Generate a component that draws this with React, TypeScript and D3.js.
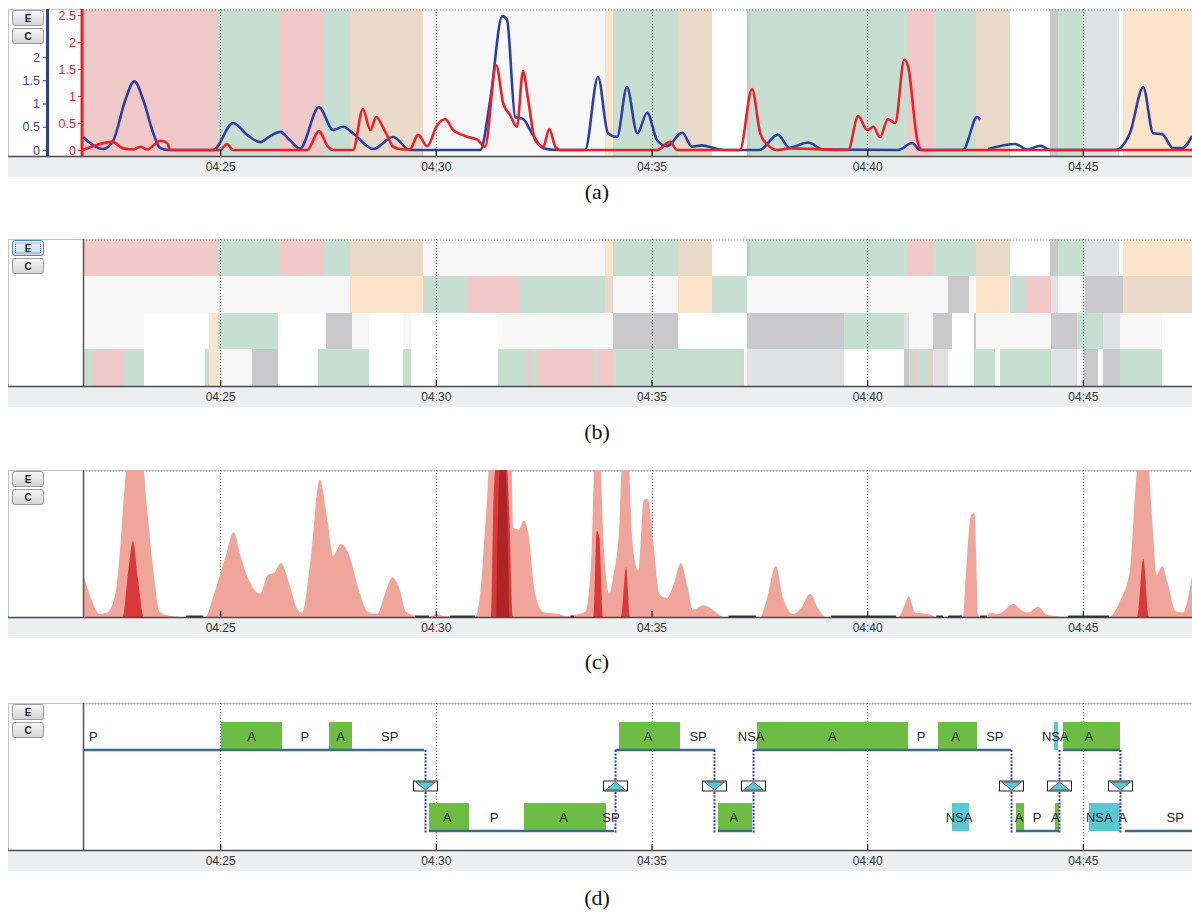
import React, { useEffect, useRef } from "react";
import * as d3 from "d3";

// all times are minutes after 04:00
const T_START = 21.82;
const T_END = 47.53;
const tickMinutes = [25, 30, 35, 40, 45];
const tickLabels = ["04:25", "04:30", "04:35", "04:40", "04:45"];
const captions = ["(a)", "(b)", "(c)", "(d)"];

// activity codes -> fill
const activityColors: Record<string, string> = {
  P: "#f1c9c9",
  G: "#c7dfd3",
  T: "#e9d9c8",
  O: "#fce4ca",
  W: "#f7f7f7",
  N: "#ffffff",
  L: "#e1e2e4",
  D: "#c9c9cb",
};

// [start, end, activity]
const rowTop: [number, number, string][] = [
  [21.82, 24.93, "P"], [24.93, 26.39, "G"], [26.39, 27.41, "P"], [27.41, 28.01, "G"],
  [28.01, 29.71, "T"], [29.71, 33.92, "W"], [33.92, 34.11, "O"], [34.11, 35.62, "G"],
  [35.62, 36.4, "T"], [36.4, 37.22, "N"], [37.22, 37.29, "D"], [37.29, 40.92, "G"],
  [40.92, 41.53, "P"], [41.53, 42.52, "G"], [42.52, 43.31, "T"], [43.31, 44.24, "N"],
  [44.24, 44.42, "D"], [44.42, 45.03, "G"], [45.03, 45.84, "L"], [45.84, 45.93, "N"],
  [45.93, 47.53, "O"],
];
const rowTwo: [number, number, string][] = [
  [21.82, 28.01, "W"], [28.01, 29.71, "O"], [29.71, 30.75, "G"], [30.75, 31.95, "P"],
  [31.95, 33.92, "G"], [33.92, 34.11, "T"], [34.11, 35.62, "W"], [35.62, 36.4, "O"],
  [36.4, 37.22, "G"], [37.22, 41.88, "W"], [41.88, 42.36, "D"], [42.36, 42.52, "W"],
  [42.52, 43.31, "O"], [43.31, 43.65, "G"], [43.65, 44.25, "P"], [44.25, 44.42, "L"],
  [44.42, 45.05, "W"], [45.05, 45.93, "D"], [45.93, 47.53, "T"],
];
const rowThree: [number, number, string][] = [
  [21.82, 23.23, "W"], [23.23, 24.74, "N"], [24.74, 24.94, "O"], [24.94, 26.34, "G"],
  [26.34, 27.46, "N"], [27.46, 28.06, "D"], [28.06, 28.44, "W"], [28.44, 29.24, "N"],
  [29.24, 29.43, "W"], [29.43, 31.43, "N"], [31.43, 34.11, "W"], [34.11, 35.62, "D"],
  [35.62, 37.22, "N"], [37.22, 39.46, "D"], [39.46, 40.86, "G"], [40.86, 40.97, "L"],
  [40.97, 41.53, "W"], [41.53, 41.97, "D"], [41.97, 42.47, "N"], [42.47, 42.52, "D"],
  [42.52, 44.25, "W"], [44.25, 44.87, "D"], [44.87, 45.47, "G"], [45.47, 45.86, "L"],
  [45.86, 46.84, "W"], [46.84, 47.53, "N"],
];
const rowFour: [number, number, string][] = [
  [21.82, 22.06, "G"], [22.06, 22.74, "P"], [22.74, 23.23, "G"], [23.23, 24.65, "N"],
  [24.65, 24.74, "G"], [24.74, 24.94, "O"], [24.94, 25.74, "W"], [25.74, 26.34, "D"],
  [26.34, 27.26, "N"], [27.26, 28.44, "G"], [28.44, 29.24, "N"], [29.24, 29.43, "G"],
  [29.43, 31.43, "N"], [31.43, 32.14, "G"], [32.14, 32.24, "P"], [32.24, 32.35, "G"],
  [32.35, 33.65, "P"], [33.65, 33.76, "G"], [33.76, 34.11, "P"], [34.11, 37.08, "G"],
  [37.08, 37.15, "P"], [37.15, 37.22, "N"], [37.22, 39.46, "L"], [39.46, 40.86, "N"],
  [40.86, 40.97, "D"], [40.97, 41.06, "G"], [41.06, 41.16, "P"], [41.16, 41.46, "G"],
  [41.46, 41.53, "P"], [41.53, 41.88, "L"], [41.88, 42.47, "N"], [42.47, 42.96, "G"],
  [42.96, 43.07, "N"], [43.07, 44.25, "G"], [44.25, 44.87, "L"], [44.87, 45.03, "W"],
  [45.03, 45.35, "D"], [45.35, 45.47, "N"], [45.47, 45.86, "D"], [45.86, 46.83, "G"],
  [46.83, 47.53, "N"],
];

// (a) blue series, left axis; null = no data
const blueSeries: [number, number | null][] = [
  [21.82, 0.28], [22.29, 0.02], [22.52, 0.2], [22.8, 1.07], [23.01, 1.48], [23.22, 1.07],
  [23.45, 0.36], [23.61, 0.04], [23.79, 0], [24.84, 0], [25.3, 0.58], [25.63, 0.32],
  [25.93, 0.17], [26.16, 0.3], [26.39, 0.39], [26.62, 0.21], [26.85, 0.03], [27.29, 0.92],
  [27.62, 0.43], [27.85, 0.5], [28.08, 0.36], [28.55, 0.02], [29.01, 0.28], [29.4, 0],
  [31.03, 0], [31.26, 1.07], [31.54, 2.88], [31.65, 2.8], [31.84, 0.71], [32.02, 0.67],
  [32.23, 0.36], [32.49, 0.04], [32.81, 0], [33.46, 0], [33.76, 1.57], [33.99, 0.36],
  [34.2, 0.28], [34.43, 1.35], [34.67, 0.36], [34.9, 0.8], [35.13, 0.21], [35.36, 0.08],
  [35.71, 0.37], [35.94, 0.07], [36.17, 0.1], [36.52, 0.02], [36.7, 0], [37.5, 0],
  [37.93, 0.33], [38.19, 0.05], [38.63, 0.16], [38.98, 0.01], [40.72, 0], [41.04, 0.15],
  [41.23, 0], [42.22, 0], [42.55, 0.71], [42.62, 0.65], [42.7, null], [42.8, 0.02],
  [43.43, 0.13], [43.71, 0.01], [44.01, 0.09], [44.24, 0], [45.75, 0], [46.09, 0.36],
  [46.4, 1.35], [46.63, 0.36], [46.84, 0.34], [47.09, 0.04], [47.3, 0.04], [47.53, 0.3],
];
// (a) red series, right axis
const redSeries: [number, number][] = [
  [21.82, 0], [22.5, 0.15], [22.75, 0.03], [22.98, 0.01], [23.15, 0.06], [23.31, 0.01],
  [23.61, 0.17], [23.77, 0.13], [23.84, 0], [25.0, 0], [25.16, 0.11], [25.3, 0],
  [27.02, 0], [27.29, 0.35], [27.5, 0.06], [27.62, 0], [28.08, 0], [28.31, 0.76],
  [28.48, 0.37], [28.62, 0.61], [28.78, 0.41], [28.89, 0.24], [29.01, 0.06], [29.24, 0.01],
  [29.4, 0.02], [29.59, 0.28], [29.8, 0.07], [30.03, 0.46], [30.22, 0.57], [30.4, 0.37],
  [30.61, 0.28], [30.75, 0.24], [30.96, 0.19], [31.14, 0.06], [31.4, 1.57], [31.56, 0.87],
  [31.72, 0.65], [31.88, 0.43], [32.02, 1.46], [32.14, 0.93], [32.3, 0.19], [32.49, 0.06],
  [32.63, 0.39], [32.77, 0.06], [32.88, 0], [35.13, 0], [35.43, 0.15], [35.59, 0],
  [37.05, 0], [37.33, 1.13], [37.52, 0.31], [37.7, 0.09], [37.91, 0], [38.21, 0.03],
  [38.68, 0.02], [39.56, 0], [39.79, 0.63], [40.0, 0.37], [40.14, 0.43], [40.3, 0.24],
  [40.48, 0.57], [40.65, 0.5], [40.86, 1.67], [40.95, 1.54], [41.16, 0.19], [41.27, 0],
  [47.53, 0],
];
const blueTicks = [0, 0.5, 1, 1.5, 2];
const redTicks = [0, 0.5, 1, 1.5, 2, 2.5];

// (c) intensity, share of panel height (above 1 is cut off)
const lightArea: [number, number][] = [
  [21.82, 0.3], [21.89, 0.23], [22.03, 0.11], [22.21, 0.02], [22.38, 0.03], [22.57, 0.16],
  [22.69, 0.5], [22.77, 0.84], [22.87, 1.1], [23.18, 1.1], [23.31, 0.73], [23.45, 0.32],
  [23.59, 0.04], [23.79, 0.01], [24.07, 0], [24.65, 0], [24.86, 0.16], [25.14, 0.43],
  [25.31, 0.58], [25.49, 0.4], [25.67, 0.25], [25.93, 0.16], [26.11, 0.29], [26.24, 0.3],
  [26.41, 0.37], [26.6, 0.23], [26.78, 0.06], [26.9, 0.03], [27.09, 0.38], [27.31, 0.94],
  [27.48, 0.68], [27.62, 0.42], [27.8, 0.5], [27.97, 0.44], [28.2, 0.2], [28.41, 0.04],
  [28.64, 0.02], [28.82, 0.16], [28.99, 0.27], [29.17, 0.18], [29.3, 0.04], [29.52, 0.01],
  [29.84, 0], [30.01, 0.02], [30.19, 0.005], [30.9, 0], [31.03, 0.16], [31.17, 0.73],
  [31.26, 1.1], [31.75, 1.1], [31.79, 0.61], [31.92, 0.6], [32.04, 0.66], [32.14, 0.58],
  [32.28, 0.2], [32.41, 0.06], [32.53, 0.03], [32.86, 0.02], [33.02, 0.005], [33.3, 0.02],
  [33.47, 0.04], [33.6, 0.38], [33.69, 1.1], [33.8, 1.1], [33.89, 0.5], [34.02, 0.16],
  [34.11, 0.27], [34.25, 0.61], [34.33, 1.1], [34.46, 1.1], [34.55, 0.54], [34.69, 0.32],
  [34.82, 0.8], [34.91, 0.81], [35.04, 0.52], [35.18, 0.16], [35.35, 0.13], [35.52, 0.23],
  [35.68, 0.37], [35.84, 0.2], [35.96, 0.05], [36.2, 0.08], [36.42, 0.05], [36.68, 0],
  [37.52, 0], [37.66, 0.11], [37.88, 0.35], [38.05, 0.13], [38.28, 0.02], [38.46, 0.06],
  [38.68, 0.16], [38.86, 0.06], [39.04, 0], [40.72, 0], [40.81, 0.04], [40.97, 0.14],
  [41.11, 0.03], [41.43, 0.02], [41.6, 0], [42.22, 0], [42.27, 0.2], [42.41, 0.7],
  [42.49, 0.71], [42.58, 0.01], [42.76, 0], [42.85, 0.03], [43.03, 0.02], [43.2, 0.05],
  [43.38, 0.09], [43.56, 0.05], [43.73, 0.03], [43.96, 0.07], [44.14, 0.02], [44.26, 0.01],
  [44.62, 0], [45.6, 0], [45.86, 0.11], [46.09, 0.32], [46.21, 0.84], [46.3, 1.1],
  [46.49, 1.1], [46.62, 0.61], [46.71, 0.29], [46.84, 0.35], [46.97, 0.23], [47.15, 0.04],
  [47.32, 0.03], [47.53, 0.28],
];
const darkArea: [number, number][] = [
  [21.82, 0], [22.74, 0], [22.87, 0.32], [22.98, 0.52], [23.09, 0.27], [23.23, 0],
  [31.28, 0], [31.34, 0.84], [31.42, 1.1], [31.63, 1.1], [31.7, 0.73], [31.79, 0],
  [33.65, 0], [33.73, 0.59], [33.79, 0.55], [33.88, 0], [34.29, 0], [34.41, 0.34],
  [34.5, 0], [46.26, 0], [46.4, 0.4], [46.53, 0], [47.53, 0],
];
const coreArea: [number, number][] = [
  [31.4, 0], [31.46, 0.9], [31.52, 1.1], [31.58, 1.1], [31.66, 0.7], [31.7, 0],
];
// (c) stretches with no activity, drawn on the baseline
const idleStretches: [number, number][] = [
  [24.21, 24.61], [29.52, 29.84], [30.33, 30.91], [33.12, 33.2], [36.78, 37.42],
  [39.16, 40.67], [41.6, 41.76], [41.88, 42.2], [42.62, 42.78], [44.66, 45.61],
];

// (d) two-level state timeline
const upperRuns: [number, number][] = [[21.82, 29.73], [34.16, 36.47], [37.36, 43.34], [44.54, 45.86]];
const lowerRuns: [number, number][] = [[29.84, 34.13], [36.54, 37.33], [43.45, 44.45], [45.97, 47.53]];
const upperBoxes: [number, number, string][] = [
  [25.03, 26.43, "A"], [27.53, 28.06, "A"], [34.25, 35.65, "A"], [37.45, 40.95, "A"],
  [41.64, 42.55, "A"], [44.33, 44.42, "NSA"], [44.54, 45.86, "A"],
];
const lowerBoxes: [number, number, string][] = [
  [29.84, 30.76, "A"], [32.05, 33.94, "A"], [36.54, 37.33, "A"], [41.96, 42.35, "NSA"],
  [43.45, 43.64, "A"], [44.36, 44.45, "A"], [45.14, 45.86, "NSA"],
];
const upperLabels: [number, string][] = [
  [22.06, "P"], [25.73, "A"], [26.96, "P"], [27.79, "A"], [28.93, "SP"], [34.92, "A"],
  [36.08, "SP"], [37.31, "NSA"], [39.19, "A"], [41.25, "P"], [42.05, "A"], [42.96, "SP"],
  [44.36, "NSA"], [45.14, "A"],
];
const lowerLabels: [number, string][] = [
  [30.26, "A"], [31.35, "P"], [32.96, "A"], [34.06, "SP"], [36.91, "A"], [42.13, "NSA"],
  [43.52, "A"], [43.94, "P"], [44.36, "A"], [45.38, "NSA"], [45.92, "A"], [47.14, "SP"],
];
const transitions: [number, string][] = [
  [29.75, "down"], [34.16, "up"], [36.45, "down"], [37.36, "up"],
  [43.34, "down"], [44.45, "up"], [45.86, "down"],
];

const W = 1192;
const X0 = 83;
const PH = 147;
const panelTops = [9, 239, 470, 703];
const captionY = [199, 439, 669, 905];
const FONT = "'Liberation Sans', Arial, sans-serif";

export default function App() {
  const ref = useRef<SVGSVGElement>(null);

  useEffect(() => {
    const svg = d3.select(ref.current);
    svg.selectAll("*").remove();

    const x = d3.scaleLinear().domain([T_START, T_END]).range([X0, W]);
    const px = (m: number) => Math.round(x(m));

    const defs = svg.append("defs");
    const gradient = (id: string, a: string, b: string) => {
      const lg = defs.append("linearGradient").attr("id", id).attr("x1", 0).attr("y1", 0).attr("x2", 0).attr("y2", 1);
      lg.append("stop").attr("offset", "0%").attr("stop-color", a);
      lg.append("stop").attr("offset", "100%").attr("stop-color", b);
    };
    gradient("btn", "#f8f8f8", "#d4d4d4");
    gradient("btnOn", "#f0f6fd", "#c6d9ef");

    function panel(i: number) {
      const g = svg.append("g").attr("transform", `translate(0,${panelTops[i]})`);
      defs.append("clipPath").attr("id", "clip" + i)
        .append("rect").attr("x", X0).attr("y", 0).attr("width", W - X0).attr("height", PH);
      g.append("rect").attr("x", 8.5).attr("y", 0.5).attr("width", W - 8).attr("height", PH)
        .attr("fill", "#fff").attr("stroke", "#c4c4c4");
      g.append("rect").attr("x", 8).attr("y", PH).attr("width", W - 8).attr("height", 21).attr("fill", "#eceef0");
      const plot = g.append("g").attr("clip-path", `url(#clip${i})`);
      return { g, plot };
    }

    function bands(plot: any, rows: [number, number, string][], y0: number, h: number) {
      plot.append("g").selectAll("rect").data(rows).join("rect")
        .attr("x", (d: any) => px(d[0]))
        .attr("width", (d: any) => Math.max(1, px(d[1]) - px(d[0])))
        .attr("y", y0).attr("height", h)
        .attr("fill", (d: any) => activityColors[d[2]]);
    }

    function grid(plot: any) {
      plot.append("line").attr("x1", X0).attr("x2", W).attr("y1", 1).attr("y2", 1)
        .attr("stroke", "#8a8a8a").attr("stroke-dasharray", "1,2");
      plot.append("g").selectAll("line").data(tickMinutes).join("line")
        .attr("x1", (d: number) => px(d) + 0.5).attr("x2", (d: number) => px(d) + 0.5)
        .attr("y1", 0).attr("y2", PH)
        .attr("stroke", "#555").attr("stroke-dasharray", "1,2");
    }

    function timeAxis(g: any) {
      const ax = g.append("g").attr("transform", `translate(0,${PH})`)
        .call(d3.axisBottom(x).tickValues(tickMinutes)
          .tickFormat((_d: any, i: number) => tickLabels[i])
          .tickSizeInner(-6).tickSizeOuter(0).tickPadding(6));
      ax.select(".domain").remove();
      ax.selectAll("line").attr("stroke", "#222").attr("stroke-width", 1.3);
      ax.selectAll("text").attr("font-family", FONT).attr("font-size", 12).attr("fill", "#333");
      g.append("line").attr("x1", 8).attr("x2", W).attr("y1", PH + 0.5).attr("y2", PH + 0.5)
        .attr("stroke", "#4a4a4a").attr("stroke-width", 1.5);
    }

    function buttons(g: any, activeE: boolean) {
      [["E", 1], ["C", 19]].forEach(([label, y]: any, i) => {
        const on = activeE && i === 0;
        g.append("rect").attr("x", 12.5).attr("y", y + 0.5).attr("width", 31).attr("height", 15).attr("rx", 2.5)
          .attr("fill", on ? "url(#btnOn)" : "url(#btn)").attr("stroke", on ? "#4f86c6" : "#9b9b9b");
        if (on) {
          g.append("rect").attr("x", 15.5).attr("y", y + 3).attr("width", 25).attr("height", 10)
            .attr("fill", "none").attr("stroke", "#333").attr("stroke-width", 0.6).attr("stroke-dasharray", "1,1");
        }
        g.append("text").attr("x", 28).attr("y", y + 11.8).attr("text-anchor", "middle")
          .attr("font-family", FONT).attr("font-size", 10).attr("font-weight", "bold").attr("fill", "#222").text(label);
      });
    }

    function leftEdge(g: any) {
      g.append("line").attr("x1", X0 + 0.5).attr("x2", X0 + 0.5).attr("y1", 0).attr("y2", PH)
        .attr("stroke", "#555").attr("stroke-width", 1.5);
    }

    // ---------- (a) ----------
    {
      const { g, plot } = panel(0);
      bands(plot, rowTop, 0, PH);
      grid(plot);
      const yBlue = d3.scaleLinear().domain([0, 3]).range([141, 1.5]);
      const yRed = d3.scaleLinear().domain([0, 2.5]).range([141, 6]);
      const blueLine = d3.line<[number, number | null]>()
        .defined((d) => d[1] !== null)
        .curve(d3.curveMonotoneX)
        .x((d) => x(d[0])).y((d) => yBlue(d[1] as number));
      const redLine = d3.line<[number, number]>().curve(d3.curveMonotoneX)
        .x((d) => x(d[0])).y((d) => yRed(d[1]));
      plot.append("path").attr("d", blueLine(blueSeries)).attr("fill", "none")
        .attr("stroke", "#2f3f9f").attr("stroke-width", 2.6).attr("stroke-linejoin", "round");
      plot.append("path").attr("d", redLine(redSeries)).attr("fill", "none")
        .attr("stroke", "#ee2026").attr("stroke-width", 2.6).attr("stroke-linejoin", "round");
      timeAxis(g);

      const blueAxis = g.append("g").attr("transform", "translate(46,0)")
        .call(d3.axisLeft(yBlue).tickValues(blueTicks).tickFormat((d: any) => String(d)).tickSize(3).tickPadding(3));
      blueAxis.select(".domain").remove();
      blueAxis.selectAll("line").attr("stroke", "#2f3f9f");
      blueAxis.selectAll("text").attr("font-family", FONT).attr("font-size", 12.5).attr("fill", "#3848a8");
      g.append("line").attr("x1", 47.5).attr("x2", 47.5).attr("y1", 0).attr("y2", PH)
        .attr("stroke", "#2f3f9f").attr("stroke-width", 3);

      const redAxis = g.append("g").attr("transform", "translate(81,0)")
        .call(d3.axisLeft(yRed).tickValues(redTicks).tickFormat((d: any) => String(d)).tickSize(3).tickPadding(2));
      redAxis.select(".domain").remove();
      redAxis.selectAll("line").attr("stroke", "#ee2026");
      redAxis.selectAll("text").attr("font-family", FONT).attr("font-size", 12.5).attr("fill", "#ee2026");
      g.append("line").attr("x1", 82).attr("x2", 82).attr("y1", 0).attr("y2", PH)
        .attr("stroke", "#ee2026").attr("stroke-width", 3);
      buttons(g, false);
    }

    // ---------- (b) ----------
    {
      const { g, plot } = panel(1);
      const rh = PH / 4;
      [rowTop, rowTwo, rowThree, rowFour].forEach((rows, i) =>
        bands(plot, rows, Math.round(i * rh), Math.round((i + 1) * rh) - Math.round(i * rh)));
      grid(plot);
      timeAxis(g);
      leftEdge(g);
      buttons(g, true);
    }

    // ---------- (c) ----------
    {
      const { g, plot } = panel(2);
      grid(plot);
      const yC = d3.scaleLinear().domain([0, 1]).range([PH, 1]);
      const area = d3.area<[number, number]>().curve(d3.curveMonotoneX)
        .x((d) => x(d[0])).y0(PH + 1).y1((d) => yC(d[1]));
      plot.append("path").attr("d", area(lightArea)).attr("fill", "#efa59a");
      plot.append("path").attr("d", area(darkArea)).attr("fill", "#d8393b");
      plot.append("path").attr("d", area(coreArea)).attr("fill", "#ad2426");
      timeAxis(g);
      g.append("g").selectAll("line").data(idleStretches).join("line")
        .attr("x1", (d: any) => x(d[0])).attr("x2", (d: any) => x(d[1]))
        .attr("y1", PH - 0.5).attr("y2", PH - 0.5).attr("stroke", "#333").attr("stroke-width", 2);
      leftEdge(g);
      buttons(g, false);
    }

    // ---------- (d) ----------
    {
      const { g, plot } = panel(3);
      grid(plot);
      const levels = [
        { runs: upperRuns, boxes: upperBoxes, labels: upperLabels, top: 19, line: 47 },
        { runs: lowerRuns, boxes: lowerBoxes, labels: lowerLabels, top: 100, line: 128 },
      ];
      levels.forEach((lv) => {
        plot.append("g").selectAll("rect").data(lv.boxes).join("rect")
          .attr("x", (d: any) => px(d[0])).attr("width", (d: any) => Math.max(3, px(d[1]) - px(d[0])))
          .attr("y", lv.top).attr("height", lv.line - lv.top)
          .attr("fill", (d: any) => (d[2] === "NSA" ? "#5ec5d2" : "#6dbd45"));
        plot.append("g").selectAll("line").data(lv.runs).join("line")
          .attr("x1", (d: any) => x(d[0])).attr("x2", (d: any) => x(d[1]))
          .attr("y1", lv.line).attr("y2", lv.line)
          .attr("stroke", "#3d6b8c").attr("stroke-width", 2.5);
        plot.append("g").selectAll("text").data(lv.labels).join("text")
          .attr("x", (d: any) => x(d[0])).attr("y", lv.top + 19)
          .attr("text-anchor", "middle").attr("font-family", FONT).attr("font-size", 13).attr("fill", "#222")
          .text((d: any) => d[1]);
      });
      const tr = plot.append("g").selectAll("g").data(transitions).join("g")
        .attr("transform", (d: any) => `translate(${px(d[0]) + 0.5},0)`);
      tr.append("line").attr("y1", 47).attr("y2", 130)
        .attr("stroke", "#3a3ac4").attr("stroke-width", 2).attr("stroke-dasharray", "2,1.5");
      tr.append("rect").attr("x", -12).attr("y", 78).attr("width", 24).attr("height", 10)
        .attr("fill", "#fff").attr("stroke", "#222").attr("stroke-width", 1);
      tr.append("path")
        .attr("d", (d: any) => (d[1] === "down" ? "M-10,79L10,79L0,87Z" : "M-10,87L10,87L0,79Z"))
        .attr("fill", "#5ec5d2").attr("stroke", "#333").attr("stroke-width", 0.7);
      timeAxis(g);
      leftEdge(g);
      buttons(g, false);
    }

    svg.append("g").selectAll("text").data(captions).join("text")
      .attr("x", 597).attr("y", (_d: any, i: number) => captionY[i])
      .attr("text-anchor", "middle").attr("font-family", "'Liberation Serif', 'Times New Roman', serif")
      .attr("font-size", 22).attr("fill", "#111").text((d: string) => d);
  }, []);

  return (
    <svg ref={ref} width={W} height={916}
      style={{ position: "absolute", left: 0, top: 0, background: "#fff" }} />
  );
}
